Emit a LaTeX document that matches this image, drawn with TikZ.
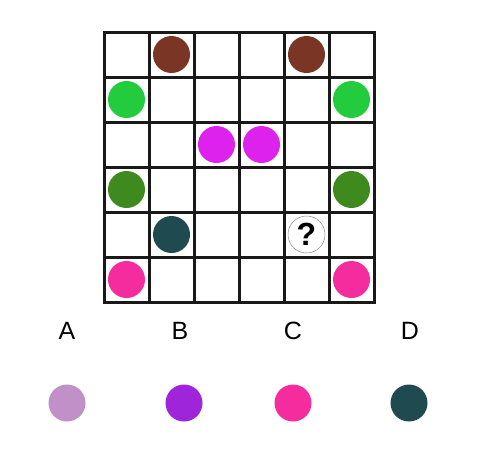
\documentclass[tikz,border=0pt]{standalone}
\usepackage{fontspec}
\setmainfont{Liberation Sans}
\usetikzlibrary{positioning}

\definecolor{dotbrown}{HTML}{7A3524}
\definecolor{dotgreen}{HTML}{22CC3C}
\definecolor{dotmagenta}{HTML}{DD22EE}
\definecolor{dotolive}{HTML}{3F8A1E}
\definecolor{dotteal}{HTML}{1E4A50}
\definecolor{dotpink}{HTML}{F42C9E}
\definecolor{optlilac}{HTML}{C190C8}
\definecolor{optviolet}{HTML}{9F25DB}

\begin{document}
\begin{tikzpicture}[
        x=1pt, y=-1pt,
        gridline/.style={line width=3pt, line cap=rect, black!90},
        dot/.style={circle, minimum size=37pt, inner sep=0pt},
        optlabel/.style={font=\fontsize{25}{25}\selectfont, inner sep=0pt}
    ]
        \useasboundingbox[fill=white] (0,0) rectangle (481,451);

        % Grid
        \foreach \i in {0,...,6} {
            \draw[gridline] (104+45*\i,32) -- (104+45*\i,302);
            \draw[gridline] (104,32+45*\i) -- (374,32+45*\i);
        }

        % Nodes in the grid
        \node[dot, fill=dotbrown] (brownL) at (171.5,54.5) {};
        \node[dot, fill=dotbrown] (brownR) at (306.5,54.5) {};
        \node[dot, fill=dotgreen] (greenL) at (126.5,99.5) {};
        \node[dot, fill=dotgreen] (greenR) at (351.5,99.5) {};
        \node[dot, fill=dotmagenta] (magentaL) at (216.5,144.5) {};
        \node[dot, fill=dotmagenta] (magentaR) at (261.5,144.5) {};
        \node[dot, fill=dotolive] (oliveL) at (126.5,189.5) {};
        \node[dot, fill=dotolive] (oliveR) at (351.5,189.5) {};
        \node[dot, fill=dotteal] (tealL) at (171.5,234.5) {};
        \node[dot, draw=black!45, line width=0.5pt, fill=white,
              font=\bfseries\fontsize{32}{32}\selectfont] (query) at (306.5,234.5) {?};
        \node[dot, fill=dotpink] (pinkL) at (126.5,279.5) {};
        \node[dot, fill=dotpink] (pinkR) at (351.5,279.5) {};

        % Options
        \node[optlabel] (labelA) at (67,331) {A};
        \node[optlabel] (labelB) at (180,331) {B};
        \node[optlabel] (labelC) at (293,331) {C};
        \node[optlabel] (labelD) at (410,331) {D};
        \node[dot, fill=optlilac] (optA) at (67,403) {};
        \node[dot, fill=optviolet] (optB) at (184,403) {};
        \node[dot, fill=dotpink] (optC) at (293,403) {};
        \node[dot, fill=dotteal] (optD) at (409,403) {};
\end{tikzpicture}
\end{document}
